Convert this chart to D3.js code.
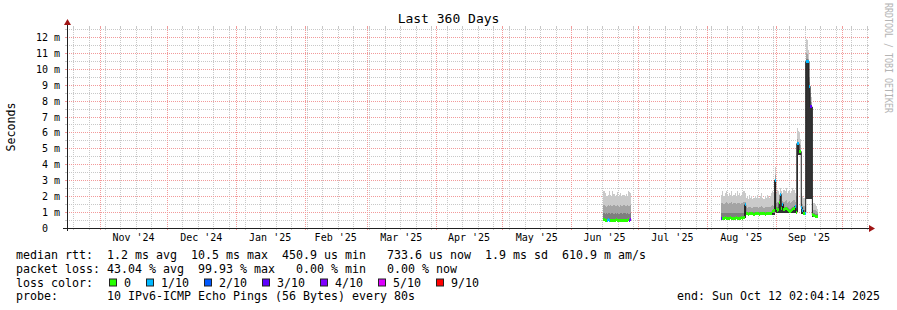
<!DOCTYPE html>
<html>
<head>
<meta charset="utf-8">
<script src="https://cdn.jsdelivr.net/npm/d3@7"></script>
<style>
body { margin: 0; background: #fff; }
svg text { font-family: "DejaVu Sans Mono", monospace; white-space: pre; }
</style>
</head>
<body>
<div id="chart"></div>
<script>
var parse = d3.utcParse('%Y-%m-%dT%H:%M:%SZ');
var endTime = parse('2025-10-12T02:04:14Z');
var startTime = d3.utcDay.offset(endTime, -360);
var stepHours = 12;

// y axis (milliseconds)
var yTickValues = [0, 1, 2, 3, 4, 5, 6, 7, 8, 9, 10, 11, 12];
var yTickLabels = ['0  ', '1 m', '2 m', '3 m', '4 m', '5 m', '6 m', '7 m', '8 m', '9 m', '10 m', '11 m', '12 m'];

// x axis months
var monthStarts = ['2024-11-01', '2024-12-01', '2025-01-01', '2025-02-01', '2025-03-01', '2025-04-01',
    '2025-05-01', '2025-06-01', '2025-07-01', '2025-08-01', '2025-09-01', '2025-10-01'];
var monthLabels = ["Nov '24", "Dec '24", "Jan '25", "Feb '25", "Mar '25", "Apr '25",
    "May '25", "Jun '25", "Jul '25", "Aug '25", "Sep '25", null];

// loss legend
var lossLabels = ['0', '1/10', '2/10', '3/10', '4/10', '5/10', '9/10'];
var lossColors = ['#26ff00', '#00b8ff', '#0059ff', '#5e00ff', '#7e00ff', '#dd00ff', '#ff0000'];

// June block, 12h samples (ms)
var junStart = '2025-06-15T12:00:00Z';
var junMedian = [0.52,0.5,0.5,0.5,0.51,0.5,0.5,0.49,0.5,0.5,0.5,0.51,0.5,0.5,0.5,0.5,0.49,0.5,0.5,0.5,0.5,0.5,0.51,0.5,0.52];
var junLoss = [0,0,0,1,1,1,0,0,0,0,0,0,0,0,0,0,0,0,0,0,0,0,0,4,4];
var junMin = [0.45,0.45,0.45,0.45,0.45,0.45,0.45,0.45,0.45,0.45,0.45,0.45,0.45,0.45,0.45,0.45,0.45,0.45,0.45,0.45,0.45,0.45,0.45,0.45,0.45];
var junCore = [0.56,0.56,0.56,0.56,0.56,0.56,0.56,0.56,0.56,0.56,0.56,0.56,0.56,0.56,0.56,0.56,0.56,0.56,0.56,0.56,0.56,0.56,0.56,0.56,0.56];
var junInner = [0.92,0.9,0.95,0.9,0.92,0.94,0.9,0.93,0.95,0.9,0.92,0.9,0.94,0.91,0.9,0.93,0.92,0.9,0.95,0.92,0.9,0.93,0.91,0.9,0.92];
var junOuter = [1.45,1.4,1.35,1.4,1.42,1.38,1.45,1.4,1.36,1.44,1.4,1.38,1.42,1.4,1.35,1.45,1.4,1.38,1.42,1.36,1.4,1.44,1.38,1.4,1.42];
var junMax = [2.35,2.2,2.0,2.0,2.05,2.3,2.1,2.0,2.3,2.15,2.0,2.1,2.25,2.0,2.05,2.2,2.0,2.1,2.05,2.0,2.15,2.0,2.3,2.25,2.2];

// August-September block, 12h samples (ms)
var augStart = '2025-08-07T12:00:00Z';
var augMedian = [0.62,0.61,0.62,0.63,0.62,0.61,0.62,0.62,0.63,0.62,0.61,0.62,0.62,0.63,0.62,0.62,0.61,0.62,0.63,0.62,0.64,
    1.45,0.9,
    0.88,0.87,0.88,0.89,0.88,0.88,0.87,0.88,0.89,0.88,0.88,0.87,0.88,0.88,0.89,0.88,0.87,0.88,0.88,0.89,0.88,0.88,0.9,
    1.05,1.08,3.0,
    1.2,1.12,1.15,1.6,2.1,1.2,1.5,
    1.15,1.2,1.25,1.18,1.1,1.05,1.02,1.08,1.15,1.2,
    1.35,1.0,5.3,5.3,4.8,4.8,1.3,1.1,0.94,0.94,
    10.45,10.45,10.45,8.9,7.6,7.6,
    0.82,0.8,0.74,0.72,0.75];
var augLoss = [3,0,0,0,0,0,0,0,0,0,0,0,0,0,0,0,0,0,0,0,0,
    1,0,0,0,0,0,0,0,0,0,0,0,0,0,0,0,0,0,0,0,0,0,0,0,0,0,0,
    1,0,0,0,0,1,0,1,
    0,0,0,0,0,0,0,0,0,0,
    1,0,1,1,0,0,1,1,0,1,
    1,1,1,1,3,3,
    0,0,0,0,0];
var augMin = [0.55,0.55,0.55,0.55,0.55,0.55,0.55,0.55,0.55,0.55,0.55,0.55,0.55,0.55,0.55,0.55,0.55,0.55,0.55,0.55,0.55,
    0.6,
    0.8,0.8,0.8,0.8,0.8,0.8,0.8,0.8,0.8,0.8,0.8,0.8,0.8,0.8,0.8,0.8,0.8,0.8,0.8,0.8,0.8,0.8,0.8,0.8,0.8,0.8,
    1.0,
    0.95,0.95,0.95,0.95,0.95,0.95,0.95,0.95,0.95,0.95,0.95,0.95,0.95,0.95,0.95,0.95,0.95,0.95,0.95,
    1.0,4.6,4.6,4.6,0.9,0.9,0.9,0.9,
    1.8,1.8,1.8,1.8,1.8,1.8,
    0.68,0.68,0.68,0.68,0.68];
var augCore = [0.66,0.66,0.66,0.66,0.66,0.66,0.66,0.66,0.66,0.66,0.66,0.66,0.66,0.66,0.66,0.66,0.66,0.66,0.66,0.66,0.66,
    1.45,
    0.92,0.92,0.92,0.92,0.92,0.92,0.92,0.92,0.92,0.92,0.92,0.92,0.92,0.92,0.92,0.92,0.92,0.92,0.92,0.92,0.92,0.92,0.92,0.92,0.92,0.92,
    3.0,
    1.24,1.16,1.19,1.6,2.1,1.24,1.5,1.19,1.24,1.29,1.22,1.14,1.09,1.06,1.12,1.19,1.24,1.35,1.04,
    5.3,5.3,4.84,4.84,1.3,1.1,0.98,0.98,
    10.45,10.45,10.45,8.9,7.6,7.6,
    0.86,0.84,0.78,0.76,0.79];
var augInner = [0.95,0.95,0.95,0.95,0.95,0.95,0.95,0.95,0.95,0.95,0.95,0.95,0.95,0.95,0.95,0.95,0.95,0.95,0.95,0.95,0.95,
    1.5,
    1.02,1.02,1.02,1.02,1.02,1.02,1.02,1.02,1.02,1.02,1.02,1.02,1.02,1.02,1.02,1.02,1.02,1.02,1.02,1.02,1.02,1.02,1.02,1.02,1.02,1.02,
    3.1,
    1.3,1.3,1.3,1.65,2.15,1.3,1.55,1.3,1.35,1.35,1.3,1.25,1.2,1.2,1.25,1.3,1.3,1.4,1.2,
    5.4,5.0,4.95,4.9,1.35,1.2,1.1,1.1,
    10.6,10.6,10.5,9.0,7.7,7.7,
    0.95,0.92,0.88,0.85,0.85];
var augOuter = [1.6,1.55,1.5,1.6,1.65,1.55,1.5,1.6,1.55,1.62,1.5,1.55,1.6,1.5,1.58,1.55,1.6,1.5,1.55,1.6,1.62,
    1.65,
    1.3,1.25,1.3,1.35,1.3,1.28,1.25,1.3,1.32,1.3,1.35,1.25,1.3,1.3,1.4,1.3,1.25,1.3,1.3,1.35,1.3,1.3,1.35,1.4,1.45,1.4,
    3.3,
    1.6,1.65,1.6,1.8,2.2,1.6,1.7,1.65,1.7,1.75,1.6,1.65,1.7,1.6,1.65,1.7,1.75,1.65,1.4,
    5.6,5.4,5.3,5.2,1.6,1.5,1.4,1.35,
    11.0,10.9,10.6,9.2,8.0,7.9,
    1.2,1.15,1.1,1.05,1.0];
var augMax = [2.1,2.3,2.0,2.2,2.3,2.1,2.0,2.2,2.1,2.3,2.0,2.1,2.2,2.0,2.3,2.1,2.2,2.0,2.1,2.2,2.3,
    2.2,
    1.9,2.0,1.8,2.1,1.9,2.0,1.8,1.9,2.0,1.9,2.1,1.8,1.9,2.0,2.2,1.9,1.8,2.0,1.9,2.1,2.0,1.9,2.0,2.2,2.3,2.2,
    3.85,
    2.2,2.4,2.3,2.1,2.5,2.3,2.2,2.4,2.3,2.5,2.2,2.3,2.4,2.2,2.3,2.5,2.4,2.2,2.0,
    6.3,6.1,6.0,5.6,2.2,2.0,1.9,1.8,
    11.9,11.8,11.2,9.5,8.5,8.2,
    1.7,1.6,1.5,1.4,1.2];

// legend text
var titleText = 'Last 360 Days';
var yAxisTitle = 'Seconds';
var legendRows = [
    'median rtt:  1.2 ms avg  10.5 ms max  450.9 us min   733.6 us now  1.9 ms sd  610.9 m am/s',
    'packet loss: 43.04 % avg  99.93 % max   0.00 % min   0.00 % now',
    'loss color:',
    'probe:       10 IPv6-ICMP Echo Pings (56 Bytes) every 80s'
];
var endText = 'end: Sun Oct 12 02:04:14 2025';
var watermark = 'RRDTOOL / TOBI OETIKER';

//Build the sample rows of one block
function buildBlock(start, med, loss, lo, core, inner, outer, hi){
    var t0 = parse(start);
    var rows = med.map(function(m, i){
        return {t: d3.utcHour.offset(t0, i * stepHours), t1: d3.utcHour.offset(t0, (i + 1) * stepHours),
            med: m, loss: loss[i], lo: lo[i], core: core[i], inner: inner[i], outer: outer[i], hi: hi[i]};
    });
    var last = rows[rows.length - 1];
    rows.push(Object.assign({}, last, {t: last.t1}));
    return rows;
}
var blocks = [
    buildBlock(junStart, junMedian, junLoss, junMin, junCore, junInner, junOuter, junMax),
    buildBlock(augStart, augMedian, augLoss, augMin, augCore, augInner, augOuter, augMax)
];

function lossIndex(n){
    if (n >= 9) return 6;
    if (n >= 5) return 5;
    return n;
}

var X0 = 67, X1 = 867, Y0 = 228, Y1 = 28;
var x = d3.scaleUtc().domain([startTime, endTime]).range([X0, X1]);
var y = d3.scaleLinear().domain([0, 12.56]).range([Y0, Y1]);

var svg = d3.select('#chart').append('svg')
    .attr('width', 897)
    .attr('height', 310);
svg.append('rect').attr('width', 897).attr('height', 310).attr('fill', '#fff');

//Grid
var minorCol = '#c8c8c8', majorCol = '#f29a9a';
var grid = svg.append('g').attr('shape-rendering', 'crispEdges');
var minorY = d3.range(0.5, 12.6, 1);
function hGrid(vals, col){
    vals.forEach(function(v){
        var yy = Math.round(y(v)) + 0.5;
        grid.append('line').attr('x1', X0 - 2).attr('x2', X0).attr('y1', yy).attr('y2', yy).attr('stroke', col);
        grid.append('line').attr('x1', X1).attr('x2', X1 + 2).attr('y1', yy).attr('y2', yy).attr('stroke', col);
        grid.append('line').attr('x1', X0).attr('x2', X1).attr('y1', yy).attr('y2', yy)
            .attr('stroke', col).attr('stroke-dasharray', '1,1');
    });
}
function vGrid(dates, col){
    dates.forEach(function(d){
        var xx = Math.round(x(d)) + 0.5;
        grid.append('line').attr('x1', xx).attr('x2', xx).attr('y1', Y0).attr('y2', Y0 + 2).attr('stroke', col);
        grid.append('line').attr('x1', xx).attr('x2', xx).attr('y1', Y1 - 2).attr('y2', Y1).attr('stroke', col);
        grid.append('line').attr('x1', xx).attr('x2', xx).attr('y1', Y1).attr('y2', Y0)
            .attr('stroke', col).attr('stroke-dasharray', '1,1');
    });
}
var monthDates = monthStarts.map(function(s){ return d3.utcParse('%Y-%m-%d')(s); });
var weekDates = d3.utcSunday.range(startTime, endTime);
hGrid(minorY, minorCol);
vGrid(weekDates, minorCol);
hGrid(yTickValues.slice(1), majorCol);
vGrid(monthDates, majorCol);

//Smoke bands, outermost first
var bands = [['hi', '#cacaca'], ['outer', '#a4a4a4'], ['inner', '#7e7e7e'], ['core', '#323232']];
var plot = svg.append('g');
blocks.forEach(function(rows){
    bands.forEach(function(b){
        var area = d3.area()
            .curve(d3.curveStepAfter)
            .x(function(d){ return x(d.t); })
            .y0(function(d){ return y(d.lo); })
            .y1(function(d){ return y(d[b[0]]); });
        plot.append('path').attr('d', area(rows)).attr('fill', b[1]).attr('shape-rendering', 'crispEdges');
    });
    var line = d3.line()
        .curve(d3.curveStepAfter)
        .x(function(d){ return x(d.t); })
        .y(function(d){ return y(d.med); });
    plot.append('path').attr('d', line(rows)).attr('fill', 'none')
        .attr('stroke', '#202020').attr('stroke-width', 1);
    plot.selectAll(null)
        .data(rows.slice(0, -1))
        .enter()
        .append('rect')
        .attr('x', function(d){ return x(d.t); })
        .attr('width', function(d){ return x(d.t1) - x(d.t); })
        .attr('y', function(d){ return y(d.med) - 1.5; })
        .attr('height', 3)
        .attr('fill', function(d){ return lossColors[lossIndex(d.loss)]; })
        .attr('shape-rendering', 'crispEdges');
});

//Axes
var axisCol = '#202020', arrowCol = '#a01515';
svg.append('line').attr('x1', X0 - 4).attr('x2', X1 + 3).attr('y1', Y0 + 0.5).attr('y2', Y0 + 0.5)
    .attr('stroke', axisCol).attr('shape-rendering', 'crispEdges');
svg.append('line').attr('x1', X0 + 0.5).attr('x2', X0 + 0.5).attr('y1', Y0 + 3).attr('y2', Y1 - 4)
    .attr('stroke', axisCol).attr('shape-rendering', 'crispEdges');
svg.append('path').attr('d', 'M' + (X0 - 3) + ',' + (Y1 - 3) + 'L' + (X0 + 0.5) + ',' + (Y1 - 9) + 'L' + (X0 + 4) + ',' + (Y1 - 3) + 'Z')
    .attr('fill', arrowCol);
svg.append('path').attr('d', 'M' + (X1 + 2) + ',' + (Y0 - 3) + 'L' + (X1 + 8) + ',' + (Y0 + 0.5) + 'L' + (X1 + 2) + ',' + (Y0 + 4) + 'Z')
    .attr('fill', arrowCol);

//Tick labels
svg.append('g').selectAll('text')
    .data(yTickValues)
    .enter()
    .append('text')
    .attr('x', 60)
    .attr('y', function(d){ return Math.round(y(d)) + 4; })
    .attr('text-anchor', 'end')
    .attr('font-size', '10px')
    .attr('fill', '#000')
    .text(function(d, i){ return yTickLabels[i]; });

svg.append('g').selectAll('text')
    .data(monthDates.slice(0, -1))
    .enter()
    .append('text')
    .attr('x', function(d, i){ return (x(d) + x(monthDates[i + 1])) / 2; })
    .attr('y', 241)
    .attr('text-anchor', 'middle')
    .attr('font-size', '10px')
    .text(function(d, i){ return monthLabels[i]; });

//Titles
svg.append('text').attr('x', 448.5).attr('y', 23).attr('text-anchor', 'middle')
    .attr('font-size', '13px').text(titleText);
svg.append('text').attr('transform', 'translate(15,127) rotate(-90)').attr('text-anchor', 'middle')
    .attr('font-size', '11.6px').text(yAxisTitle);
svg.append('text').attr('transform', 'translate(885,3) rotate(90)')
    .attr('font-size', '10px').attr('fill', '#b4b4b4')
    .attr('textLength', 110).attr('lengthAdjust', 'spacingAndGlyphs')
    .text(watermark);

//Legend
var rowY = [258.7, 272.6, 286.5, 300.4];
legendRows.forEach(function(r, i){
    svg.append('text').attr('x', 16).attr('y', rowY[i]).attr('font-size', '11.63px').text(r);
});
var lx = 109;
lossLabels.forEach(function(l, i){
    svg.append('rect').attr('x', lx + 0.5).attr('y', rowY[2] - 7.5).attr('width', 7).attr('height', 7)
        .attr('fill', lossColors[i]).attr('stroke', '#222').attr('stroke-width', 1);
    svg.append('text').attr('x', lx + 15).attr('y', rowY[2]).attr('font-size', '11.63px').text(l);
    lx += 15 + l.length * 7 + 15;
});
svg.append('text').attr('x', 880).attr('y', rowY[3]).attr('text-anchor', 'end')
    .attr('font-size', '11.63px').text(endText);
</script>
</body>
</html>
